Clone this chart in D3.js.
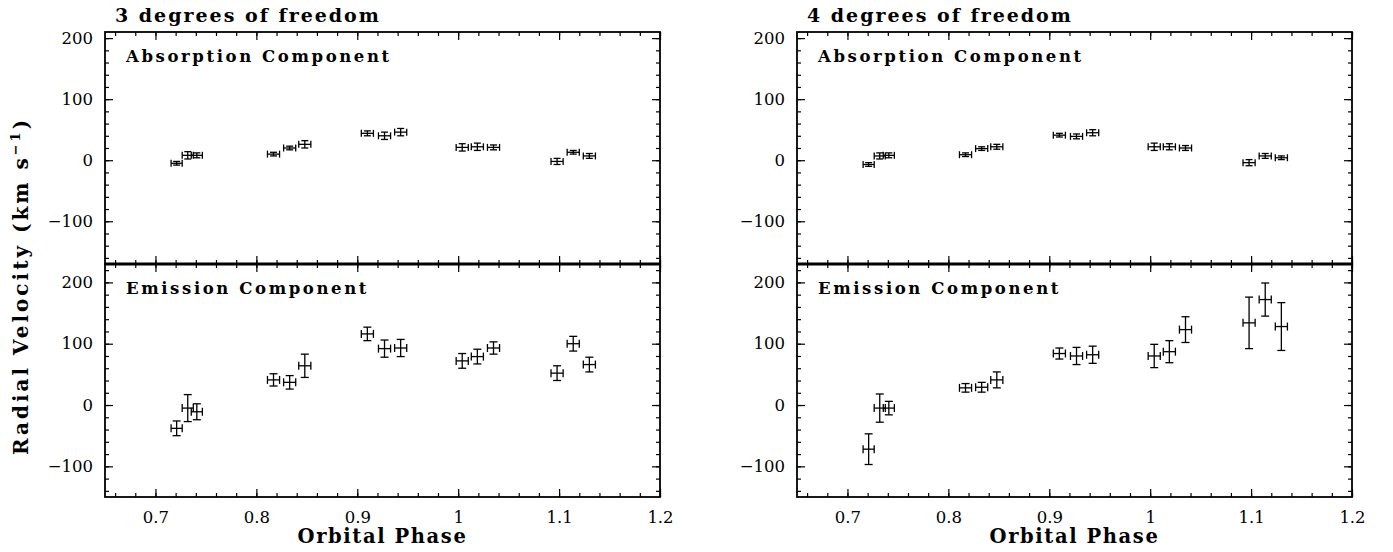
<!DOCTYPE html>
<html>
<head>
<meta charset="utf-8">
<script src="https://cdn.jsdelivr.net/npm/d3@7"></script>
<style>
  body { margin: 0; background: #fff; }
  svg text { fill: #000; }
</style>
</head>
<body>
<svg id="viz" width="1393" height="552"></svg>
<script>
// orbital phase of each spectrum (same for both fits)
var phases   = [0.721, 0.732, 0.741, 0.817, 0.833, 0.848, 0.910, 0.927, 0.943, 1.004, 1.019, 1.035, 1.098, 1.114, 1.130];
var phaseErr = [0.0055, 0.0055, 0.0055, 0.006, 0.006, 0.006, 0.006, 0.006, 0.006, 0.006, 0.006, 0.006, 0.006, 0.006, 0.006];

// 3 degrees of freedom
var abs3     = [-5, 8, 8, 10, 20, 26, 44, 40, 46, 21, 22, 21, -2, 13, 7];
var abs3Err  = [3, 6, 4, 3, 3, 6, 4, 6, 6, 6, 6, 4, 5, 3, 4];
var em3      = [-38, -5, -11, 41, 37, 64, 116, 92, 93, 72, 79, 93, 52, 100, 66];
var em3Err   = [12, 22, 13, 10, 11, 19, 11, 14, 14, 12, 12, 10, 12, 12, 12];

// 4 degrees of freedom
var abs4     = [-7, 7, 8, 9, 19, 22, 41, 39, 45, 22, 22, 20, -4, 7, 4];
var abs4Err  = [3, 5, 4, 3, 3, 4, 3, 4, 5, 6, 5, 4, 5, 4, 3];
var em4      = [-72, -5, -5, 28, 29, 41, 84, 80, 82, 80, 87, 123, 134, 172, 128];
var em4Err   = [25, 23, 11, 7, 8, 13, 9, 14, 14, 19, 18, 21, 42, 27, 39];

var xTicks = [0.7, 0.8, 0.9, 1, 1.1, 1.2];
var yTicks = [-100, 0, 100, 200];
var titles = ["3 degrees of freedom", "4 degrees of freedom"];
var compNames = ["Absorption Component", "Emission Component"];

var svg = d3.select("#viz");
var serif = "'DejaVu Serif', serif";

var columns = [
  { x0: 105, x1: 660, title: titles[0], sets: [[abs3, abs3Err], [em3, em3Err]] },
  { x0: 797, x1: 1352, title: titles[1], sets: [[abs4, abs4Err], [em4, em4Err]] }
];
var rows = [
  { y0: 32, y1: 264, domain: [-170, 210] },
  { y0: 264, y1: 497, domain: [-150, 230] }
];

function minorTicks(lo, hi, step) {
  var out = [];
  for (var v = lo; v <= hi + 1e-9; v += step) out.push(+v.toFixed(4));
  return out;
}

columns.forEach(function (col) {
  var x = d3.scaleLinear().domain([0.65, 1.2]).range([col.x0, col.x1]);

  rows.forEach(function (row, ri) {
    var y = d3.scaleLinear().domain(row.domain).range([row.y1, row.y0]);
    var g = svg.append("g");
    var yMinor = minorTicks(-160, 220, 20).filter(function (v) { return v > row.domain[0] && v < row.domain[1]; });
    var xMinor = minorTicks(0.66, 1.2, 0.02);

    // ticks on all four sides, pointing in
    g.append("g").attr("transform", "translate(0," + row.y1 + ")")
      .call(d3.axisBottom(x).tickValues(xMinor).tickSize(-4).tickFormat(""));
    g.append("g").attr("transform", "translate(0," + row.y1 + ")")
      .call(d3.axisBottom(x).tickValues(xTicks).tickSize(-8).tickPadding(14)
        .tickFormat(function (d) { return ri == 1 ? String(+d.toFixed(1)) : ""; }));
    g.append("g").attr("transform", "translate(0," + row.y0 + ")")
      .call(d3.axisTop(x).tickValues(xMinor).tickSize(-4).tickFormat(""));
    g.append("g").attr("transform", "translate(0," + row.y0 + ")")
      .call(d3.axisTop(x).tickValues(xTicks).tickSize(-8).tickFormat(""));

    g.append("g").attr("transform", "translate(" + col.x0 + ",0)")
      .call(d3.axisLeft(y).tickValues(yMinor).tickSize(-4).tickFormat(""));
    g.append("g").attr("transform", "translate(" + col.x0 + ",0)")
      .call(d3.axisLeft(y).tickValues(yTicks).tickSize(-8).tickPadding(12)
        .tickFormat(function (d) { return d < 0 ? "\u2212" + Math.abs(d) : d; }));
    g.append("g").attr("transform", "translate(" + col.x1 + ",0)")
      .call(d3.axisRight(y).tickValues(yMinor).tickSize(-4).tickFormat(""));
    g.append("g").attr("transform", "translate(" + col.x1 + ",0)")
      .call(d3.axisRight(y).tickValues(yTicks).tickSize(-8).tickFormat(""));

    g.selectAll(".domain").remove();
    g.selectAll(".tick line").attr("stroke", "#000").attr("stroke-width", 1.2);
    g.selectAll(".tick text").attr("font-family", serif).attr("font-size", 16.5).attr("fill", "#000");

    g.append("rect")
      .attr("x", col.x0).attr("y", row.y0)
      .attr("width", col.x1 - col.x0).attr("height", row.y1 - row.y0)
      .attr("fill", "none").attr("stroke", "#000").attr("stroke-width", 1.8);

    g.append("text")
      .attr("x", col.x0 + 21).attr("y", row.y0 + 30)
      .attr("font-family", serif).attr("font-weight", "bold")
      .attr("font-size", 16.5).attr("letter-spacing", 2.6)
      .text(compNames[ri]);

    // error bars
    var vals = col.sets[ri][0], errs = col.sets[ri][1];
    var cap = ri == 0 ? 3.5 : 4;
    var pts = g.append("g").attr("stroke", "#000").attr("stroke-width", 1.3)
      .selectAll("g").data(phases).enter().append("g");
    pts.append("line")
      .attr("x1", function (d, i) { return x(d - phaseErr[i]); })
      .attr("x2", function (d, i) { return x(d + phaseErr[i]); })
      .attr("y1", function (d, i) { return y(vals[i]); })
      .attr("y2", function (d, i) { return y(vals[i]); });
    pts.append("line")
      .attr("x1", function (d) { return x(d); })
      .attr("x2", function (d) { return x(d); })
      .attr("y1", function (d, i) { return y(vals[i] - errs[i]); })
      .attr("y2", function (d, i) { return y(vals[i] + errs[i]); });
    [-1, 1].forEach(function (s) {
      pts.append("line")
        .attr("x1", function (d, i) { return x(d + s * phaseErr[i]); })
        .attr("x2", function (d, i) { return x(d + s * phaseErr[i]); })
        .attr("y1", function (d, i) { return y(vals[i]) - cap; })
        .attr("y2", function (d, i) { return y(vals[i]) + cap; });
      pts.append("line")
        .attr("x1", function (d) { return x(d) - cap; })
        .attr("x2", function (d) { return x(d) + cap; })
        .attr("y1", function (d, i) { return y(vals[i] + s * errs[i]); })
        .attr("y2", function (d, i) { return y(vals[i] + s * errs[i]); });
    });
  });

  // thicker shared border between the two panels
  svg.append("line")
    .attr("x1", col.x0).attr("x2", col.x1)
    .attr("y1", rows[0].y1).attr("y2", rows[0].y1)
    .attr("stroke", "#000").attr("stroke-width", 2.8);

  svg.append("text")
    .attr("x", col.x0 + 10).attr("y", 22)
    .attr("font-family", serif).attr("font-weight", "bold")
    .attr("font-size", 19).attr("letter-spacing", 2)
    .text(col.title);

  svg.append("text")
    .attr("x", (col.x0 + col.x1) / 2).attr("y", 543)
    .attr("text-anchor", "middle")
    .attr("font-family", serif).attr("font-weight", "bold")
    .attr("font-size", 19.5).attr("letter-spacing", 1.6)
    .text("Orbital Phase");
});

svg.append("text")
  .attr("transform", "translate(28,286) rotate(-90)")
  .attr("text-anchor", "middle")
  .attr("font-family", serif).attr("font-weight", "bold")
  .attr("font-size", 20).attr("letter-spacing", 3)
  .text("Radial Velocity (km s")
  .append("tspan").attr("dy", -8).attr("font-size", 13).text("\u22121")
  .select(function () { return this.parentNode; })
  .append("tspan").attr("dy", 8).text(")");
</script>
</body>
</html>
